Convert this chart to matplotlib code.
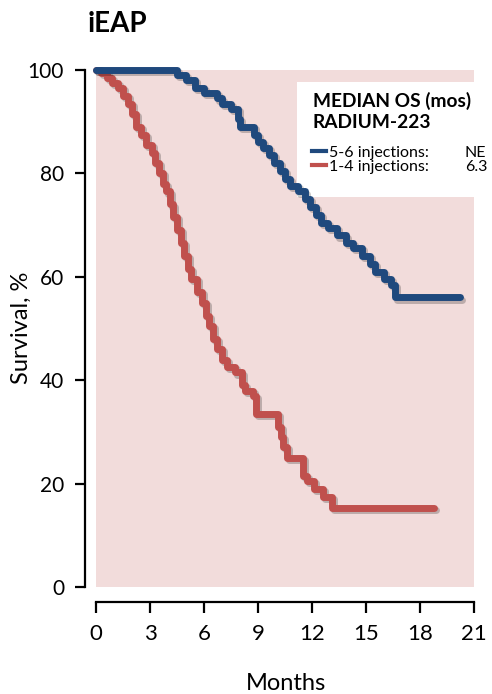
import numpy as np
import matplotlib
matplotlib.use('Agg')
from matplotlib import pyplot as plt
from matplotlib import patheffects as pe
from matplotlib.patches import Rectangle

plt.rcParams['font.family'] = ['Lato', 'DejaVu Sans']

# kaplan-meier steps (months, survival %)
blue_t = [0, 4.5, 5.0, 5.5, 6.0, 6.7, 7.0, 7.5, 7.9, 8.0, 8.8, 9.0, 9.3, 9.6, 9.9,
          10.2, 10.5, 10.8, 11.2, 11.6, 11.9, 12.2, 12.5, 12.9, 13.4, 13.9, 14.3,
          14.8, 15.2, 15.5, 16.0, 16.4, 16.6, 20.2]
blue_s = [100, 99, 98, 96.5, 95.5, 94.5, 93.5, 92.5, 90.5, 89, 87.5, 86, 85, 83.5, 82,
          80.5, 79, 77.5, 76.5, 75, 73.5, 72, 70.5, 69.5, 68, 66.5, 65.5,
          64, 62.5, 61, 59.5, 58.5, 56, 56]

red_t = [0, 0.3, 0.6, 0.9, 1.2, 1.5, 1.8, 2.0, 2.2, 2.5, 2.8, 3.1, 3.3, 3.5, 3.7, 3.9,
         4.1, 4.3, 4.5, 4.7, 4.9, 5.1, 5.3, 5.6, 5.9, 6.1, 6.3, 6.5, 6.7, 7.0, 7.3,
         7.7, 8.1, 8.3, 8.7, 8.9, 10.1, 10.3, 10.4, 10.6, 11.5, 11.7, 12.1, 12.6,
         13.1, 18.8]
red_s = [100, 99.5, 98.5, 97.5, 96.5, 95, 93.5, 91.5, 89, 87.5, 85.5, 84, 82, 80, 78, 76.5,
         74, 71.5, 69, 66.5, 64, 61.5, 59.5, 57, 55, 52.5, 50.5, 48, 46, 44, 42.5,
         41.5, 39, 38, 37, 33.5, 31, 29, 27, 25, 21.5, 20.5, 19, 17.5,
         15.3, 15.3]

x_ticks = [0, 3, 6, 9, 12, 15, 18, 21]
y_ticks = [0, 20, 40, 60, 80, 100]
legend_names = ['5-6 injections:', '1-4 injections:']
legend_vals = ['NE', '6.3']

BLUE = '#1F497D'
RED = '#C0504D'
PINK = '#F2DCDB'

W, H = 492, 694
fig = plt.figure(figsize=(W / 100, H / 100), dpi=100)


def px(x, y):
    # pixel (from top-left) -> figure fraction
    return x / W, 1 - y / H


ax = fig.add_axes([96 / W, 1 - 587 / H, 378 / W, 517 / H])
ax.set_facecolor(PINK)
ax.set_xlim(0, 21)
ax.set_ylim(0, 100)

for sp in ['top', 'right']:
    ax.spines[sp].set_visible(False)
ax.spines['left'].set_position(('outward', 8))
ax.spines['bottom'].set_position(('outward', 11))
for sp in ['left', 'bottom']:
    ax.spines[sp].set_linewidth(1.6)

ax.set_xticks(x_ticks)
ax.set_yticks(y_ticks)
ax.tick_params(axis='x', length=8, width=1.6, pad=8, labelsize=16)
ax.tick_params(axis='y', length=7, width=1.6, pad=8, labelsize=15)

shadow = [pe.SimpleLineShadow(offset=(1.5, -1.5), alpha=0.22, shadow_color='black'), pe.Normal()]

# white legend box behind the text
box_l, box_t = px(297, 82)
box_r, box_b = px(W + 5, 197)
ax.add_patch(Rectangle((box_l, box_b), box_r - box_l, box_t - box_b, transform=fig.transFigure,
                       facecolor='white', edgecolor='none', zorder=1, clip_on=False))

ax.step(red_t, red_s, where='post', color=RED, lw=5, solid_capstyle='round',
        solid_joinstyle='round', clip_on=False, zorder=3, path_effects=shadow)
ax.step(blue_t, blue_s, where='post', color=BLUE, lw=5, solid_capstyle='round',
        solid_joinstyle='round', clip_on=False, zorder=4, path_effects=shadow)

fig.text(*px(88, 32), 'iEAP', fontsize=20, fontweight='bold', va='baseline')
fig.text(*px(21, 328), 'Survival, %', fontsize=17, rotation=90, ha='center', va='center')
fig.text(*px(286, 690), 'Months', fontsize=17, ha='center', va='baseline')

fig.text(*px(313, 107), 'MEDIAN OS (mos)', fontsize=13.8, fontweight='bold', va='baseline')
fig.text(*px(313, 128), 'RADIUM-223', fontsize=13.8, fontweight='bold', va='baseline')
for i, (name, val, col) in enumerate(zip(legend_names, legend_vals, [BLUE, RED])):
    yb = 157 + i * 14
    x0, y0 = px(312, yb - 6)
    x1, _ = px(326, yb - 6)
    fig.add_artist(plt.Line2D([x0, x1], [y0, y0], transform=fig.transFigure, color=col, lw=3))
    fig.text(*px(329, yb), name, fontsize=11.5, va='baseline')
    fig.text(*px(465, yb), val, fontsize=11.5, va='baseline')

fig.savefig('out.png', dpi=100)
